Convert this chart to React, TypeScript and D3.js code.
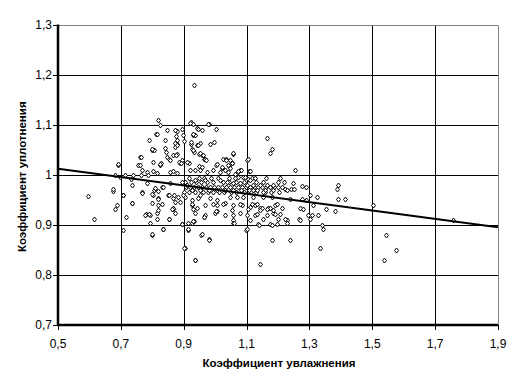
import React, { useEffect, useRef } from "react";
import * as d3 from "d3";

// axis ticks and labels
const xTicks = [0.5, 0.7, 0.9, 1.1, 1.3, 1.5, 1.7, 1.9];
const xTickLabels = ["0,5", "0,7", "0,9", "1,1", "1,3", "1,5", "1,7", "1,9"];
const yTicks = [0.7, 0.8, 0.9, 1.0, 1.1, 1.2, 1.3];
const yTickLabels = ["0,7", "0,8", "0,9", "1", "1,1", "1,2", "1,3"];

const xTitle = "Коэффициент увлажнения";
const yTitle = "Коэффициент уплотнения";

// linear trend line end points
const trendX = [0.5, 1.9];
const trendY = [1.012, 0.895];

// scattered samples left and below the cloud
const sparsePoints: [number, number][] = [
  [0.595, 0.958], [0.614, 0.911], [0.675, 0.967], [0.688, 0.939], [0.681, 0.931],
  [0.707, 0.889], [0.707, 0.959], [0.716, 0.915], [0.735, 0.943], [0.799, 0.879],
  [0.834, 0.891], [0.780, 0.921], [0.793, 0.919], [0.793, 0.903], [0.853, 0.911],
  [0.866, 0.931], [0.904, 0.853], [0.936, 0.829], [0.894, 0.901], [0.913, 0.889],
  [0.926, 0.903], [0.932, 0.907], [0.955, 0.879], [0.980, 0.871], [0.964, 0.915],
  [1.006, 0.927], [0.691, 1.019], [0.754, 1.019], [0.824, 1.019], [0.767, 1.009],
  [0.761, 1.035], [0.691, 1.021], [0.761, 1.019], [0.681, 0.999], [0.697, 0.995],
  [0.732, 0.991], [0.764, 0.999], [0.783, 1.005], [0.675, 0.971], [0.767, 0.965],
  [0.805, 0.969], [0.831, 0.975], [0.802, 1.007], [0.828, 1.023], [0.847, 1.035],
];

// samples above the trend line
const upperPoints: [number, number][] = [
  [0.932, 1.179], [0.818, 1.109], [0.824, 1.099], [0.923, 1.105], [0.929, 1.101],
  [0.980, 1.101], [0.847, 1.089], [0.878, 1.087], [0.894, 1.091], [0.942, 1.093],
  [0.958, 1.089], [1.002, 1.091], [0.789, 1.069], [0.812, 1.081], [0.840, 1.069],
  [0.878, 1.069], [0.901, 1.067], [0.929, 1.079], [0.996, 1.065], [0.983, 1.061],
  [0.799, 1.049], [0.805, 1.049], [0.843, 1.045], [0.872, 1.055], [0.878, 1.061],
  [0.923, 1.061], [0.942, 1.059], [0.952, 1.063], [0.926, 1.051], [0.932, 1.045],
  [0.866, 1.039], [0.878, 1.041], [0.948, 1.041], [0.958, 1.039], [0.802, 1.025],
  [0.853, 1.031], [0.894, 1.029], [0.888, 1.023], [0.917, 1.023], [0.964, 1.031],
  [0.967, 1.031], [1.002, 1.019], [1.025, 1.031], [1.057, 1.041], [1.047, 1.029],
  [1.053, 1.023], [1.101, 1.029], [1.165, 1.073], [1.181, 1.051], [1.174, 1.043],
  [1.254, 1.009], [1.034, 1.031], [1.079, 1.009], [1.107, 1.007], [0.936, 1.079],
  [1.022, 1.013], [1.040, 1.005], [1.069, 1.003], [1.082, 1.009], [1.111, 1.007],
  [0.872, 1.089], [0.920, 1.103], [0.945, 1.091], [0.977, 1.101], [0.815, 1.081],
  [0.875, 1.077], [0.898, 1.079], [0.929, 1.081], [0.923, 1.065], [0.945, 1.059],
  [0.872, 1.063], [0.878, 1.059], [0.799, 1.051], [0.840, 1.053], [0.929, 1.049],
  [0.952, 1.043], [0.961, 1.039], [0.875, 1.039], [0.824, 1.021], [0.856, 1.029],
  [0.885, 1.025], [0.891, 1.023], [0.910, 1.025], [0.971, 1.029], [1.006, 1.021],
  [0.764, 1.035], [0.948, 1.017], [0.958, 1.015], [1.034, 1.029], [1.057, 1.043],
  [1.044, 1.017], [1.022, 1.015], [1.072, 1.007], [0.713, 0.999], [0.739, 0.999],
  [0.786, 0.999], [0.815, 1.003], [0.856, 1.005], [0.866, 1.007], [0.878, 1.003],
  [0.920, 1.009], [0.936, 1.009], [0.952, 1.009], [0.974, 1.005], [0.993, 1.009],
  [1.015, 1.005], [1.031, 1.009], [1.063, 1.001], [1.088, 0.995], [1.104, 0.991],
  [1.117, 0.993], [1.104, 1.031], [1.053, 1.023], [1.040, 1.019], [1.047, 1.013],
  [1.072, 0.995], [1.095, 0.995], [1.111, 0.989],
];

// dense band along the trend line
const bandPoints: [number, number][] = [
  [0.907, 0.975], [0.920, 0.975], [0.932, 0.975], [0.945, 0.975], [0.958, 0.975],
  [0.971, 0.975], [0.983, 0.975], [0.996, 0.975], [1.009, 0.975], [1.022, 0.975],
  [1.034, 0.975], [1.047, 0.975], [1.060, 0.975], [1.072, 0.975], [1.085, 0.975],
  [1.098, 0.975], [1.111, 0.975], [1.123, 0.975], [1.136, 0.975], [1.149, 0.975],
  [1.161, 0.975], [1.174, 0.975], [1.187, 0.975], [1.200, 0.975], [1.212, 0.975],
  [0.901, 0.965], [0.917, 0.965], [0.936, 0.965], [0.961, 0.965], [0.977, 0.965],
  [0.993, 0.965], [1.012, 0.965], [1.028, 0.965], [1.050, 0.965], [1.066, 0.965],
  [1.091, 0.965], [1.114, 0.965], [1.130, 0.965], [1.158, 0.965], [1.177, 0.965],
  [1.203, 0.965], [0.904, 0.985], [0.923, 0.985], [0.939, 0.985], [0.955, 0.985],
  [0.974, 0.985], [1.025, 0.985], [1.044, 0.985], [1.066, 0.985], [1.091, 0.985],
  [1.130, 0.985], [1.152, 0.985], [1.200, 0.985], [1.219, 0.985], [0.917, 0.993],
  [0.948, 0.993], [0.964, 0.993], [0.987, 0.993], [1.009, 0.993], [1.044, 0.993],
  [1.063, 0.993], [1.126, 0.993], [1.161, 0.993], [1.206, 0.993],
  [0.735, 0.979], [0.783, 0.983], [0.808, 0.973], [0.834, 0.975], [0.856, 0.983],
  [0.894, 0.985], [0.910, 0.979], [0.936, 0.989], [0.967, 0.989], [0.993, 0.985],
  [1.015, 0.989], [1.037, 0.985], [1.057, 0.983], [1.079, 0.983], [1.101, 0.979],
  [1.120, 0.979], [1.142, 0.979], [1.165, 0.979], [1.184, 0.979],
  [0.926, 0.970], [0.952, 0.970], [0.980, 0.970], [1.006, 0.970], [1.031, 0.970],
  [1.057, 0.970], [1.082, 0.970], [1.107, 0.970], [1.133, 0.970], [1.158, 0.970],
];

// samples below the trend line
const lowerPoints: [number, number][] = [
  [0.802, 0.959], [0.818, 0.953], [0.850, 0.959], [0.866, 0.953], [0.882, 0.955],
  [0.904, 0.955], [0.926, 0.949], [0.945, 0.953], [0.983, 0.953], [1.006, 0.949],
  [1.047, 0.955], [1.069, 0.955], [1.088, 0.955], [1.120, 0.955], [1.152, 0.955],
  [1.181, 0.955], [0.707, 0.959], [0.767, 0.963], [0.735, 0.943], [0.818, 0.939],
  [0.866, 0.933], [0.926, 0.939], [0.942, 0.933], [0.967, 0.939], [1.006, 0.939],
  [1.031, 0.943], [1.057, 0.939], [1.085, 0.939], [1.111, 0.935], [1.126, 0.939],
  [1.142, 0.933], [1.168, 0.933], [1.190, 0.939], [0.777, 0.919], [0.815, 0.923],
  [0.872, 0.923], [0.936, 0.923], [0.967, 0.919], [0.999, 0.923], [1.031, 0.919],
  [1.079, 0.923], [1.126, 0.919], [1.165, 0.919], [1.184, 0.923],
  [0.799, 0.961], [0.818, 0.967], [0.853, 0.959], [0.869, 0.959], [0.898, 0.959],
  [0.799, 0.943], [0.818, 0.951], [0.831, 0.941], [0.872, 0.945], [0.888, 0.945],
  [0.926, 0.941], [0.789, 0.921], [0.818, 0.929], [0.863, 0.931], [0.815, 0.911],
  [0.853, 0.911], [0.894, 0.901], [0.913, 0.903], [0.834, 0.891], [0.913, 0.891],
  [0.799, 0.881], [0.901, 0.853],
  [0.952, 0.959], [0.993, 0.941], [1.025, 0.941], [1.079, 0.941], [1.117, 0.941],
  [1.133, 0.941], [1.149, 0.933], [1.174, 0.933], [1.196, 0.941], [1.212, 0.933],
  [0.929, 0.931], [1.002, 0.927], [1.053, 0.929], [1.104, 0.931], [1.133, 0.921],
  [1.165, 0.931], [1.190, 0.921], [1.206, 0.921], [0.964, 0.915], [1.057, 0.919],
  [1.101, 0.919], [1.057, 0.909], [1.057, 0.903], [1.111, 0.909], [1.152, 0.911],
  [1.200, 0.911], [1.228, 0.909], [0.929, 0.907], [1.136, 0.901], [1.174, 0.901],
  [1.196, 0.901], [1.228, 0.903], [1.098, 0.889], [0.958, 0.881], [0.980, 0.869],
  [0.936, 0.829], [1.142, 0.821], [1.181, 0.869], [1.238, 0.869],
];

// samples to the right of 1.2
const rightPoints: [number, number][] = [
  [1.247, 0.983], [1.276, 0.977], [1.289, 0.975], [1.390, 0.979], [1.387, 0.971],
  [1.120, 0.969], [1.152, 0.965], [1.184, 0.969], [1.222, 0.971], [1.241, 0.971],
  [1.250, 0.971], [1.228, 0.969], [1.301, 0.959], [1.324, 0.955], [1.390, 0.951],
  [1.413, 0.951], [1.502, 0.939], [1.238, 0.951], [1.276, 0.951], [1.289, 0.949],
  [1.311, 0.939], [1.270, 0.933], [1.279, 0.931], [1.352, 0.931], [1.381, 0.927],
  [1.142, 0.929], [1.184, 0.929], [1.222, 0.911], [1.266, 0.911], [1.295, 0.919],
  [1.308, 0.919], [1.327, 0.919], [1.270, 0.909], [1.301, 0.911], [1.060, 0.903],
  [1.139, 0.899], [1.181, 0.899], [1.340, 0.899], [1.343, 0.891], [1.101, 0.891],
  [1.333, 0.853], [1.543, 0.879], [1.575, 0.849], [1.537, 0.829], [1.756, 0.909],
];

const allPoints = [...sparsePoints, ...upperPoints, ...bandPoints, ...lowerPoints, ...rightPoints];

const W = 521;
const H = 390;
const margin = { top: 24.5, right: 23, bottom: 65, left: 58 };

const App: React.FC = () => {
  const ref = useRef<SVGSVGElement | null>(null);

  useEffect(() => {
    if (!ref.current) return;
    const svg = d3.select(ref.current);
    svg.selectAll("*").remove();

    const x = d3.scaleLinear().domain([0.5, 1.9]).range([margin.left, W - margin.right]);
    const y = d3.scaleLinear().domain([0.7, 1.3]).range([H - margin.bottom, margin.top]);
    const px = (v: number) => Math.round(x(v)) + 0.5;
    const py = (v: number) => Math.round(y(v)) + 0.5;

    svg.append("rect").attr("width", W).attr("height", H).attr("fill", "#fff");

    // grid
    const grid = svg.append("g").attr("stroke", "#000").attr("stroke-width", 1);
    xTicks.slice(1, -1).forEach((t) => {
      grid.append("line").attr("x1", px(t)).attr("x2", px(t)).attr("y1", py(1.3)).attr("y2", py(0.7));
    });
    yTicks.slice(1, -1).forEach((t) => {
      grid.append("line").attr("x1", px(0.5)).attr("x2", px(1.9)).attr("y1", py(t)).attr("y2", py(t));
    });

    // top and right frame (grey)
    svg
      .append("path")
      .attr("d", `M${px(0.5)},${py(1.3)}H${px(1.9)}V${py(0.7)}`)
      .attr("fill", "none")
      .attr("stroke", "#808080");

    // points
    const diamond = "M0,-2.5L2,0L0,2.5L-2,0Z";
    svg
      .append("g")
      .selectAll("path")
      .data(allPoints)
      .enter()
      .append("path")
      .attr("d", diamond)
      .attr("transform", (d) => `translate(${Math.round(x(d[0])) + 0.5},${Math.round(y(d[1])) + 0.5})`)
      .attr("fill", "#fff")
      .attr("stroke", "#000")
      .attr("stroke-width", 1);

    // trend line
    svg
      .append("path")
      .datum(trendX.map((v, i) => [v, trendY[i]] as [number, number]))
      .attr("fill", "none")
      .attr("stroke", "#000")
      .attr("stroke-width", 2)
      .attr("d", d3.line<[number, number]>().x((d) => x(d[0])).y((d) => y(d[1])));

    // axes
    const axes = svg.append("g").attr("stroke", "#000");
    axes
      .append("line")
      .attr("x1", x(0.5))
      .attr("x2", x(0.5))
      .attr("y1", y(1.3))
      .attr("y2", y(0.7) + 1)
      .attr("stroke-width", 2.5);
    axes
      .append("line")
      .attr("x1", x(0.5) - 1)
      .attr("x2", x(1.9))
      .attr("y1", y(0.7))
      .attr("y2", y(0.7))
      .attr("stroke-width", 2.5);
    xTicks.forEach((t) => {
      axes.append("line").attr("x1", px(t)).attr("x2", px(t)).attr("y1", y(0.7)).attr("y2", y(0.7) + 5);
    });
    yTicks.forEach((t) => {
      axes.append("line").attr("x1", x(0.5) - 5).attr("x2", x(0.5)).attr("y1", py(t)).attr("y2", py(t));
    });

    const font = "Liberation Sans, Arial, sans-serif";
    svg
      .append("g")
      .selectAll("text")
      .data(xTicks)
      .enter()
      .append("text")
      .attr("x", (d) => x(d))
      .attr("y", y(0.7) + 23)
      .attr("text-anchor", "middle")
      .attr("font-family", font)
      .attr("font-size", 12)
      .text((d, i) => xTickLabels[i]);
    svg
      .append("g")
      .selectAll("text")
      .data(yTicks)
      .enter()
      .append("text")
      .attr("x", x(0.5) - 6)
      .attr("y", (d) => y(d) + 4)
      .attr("text-anchor", "end")
      .attr("font-family", font)
      .attr("font-size", 12)
      .text((d, i) => yTickLabels[i]);

    svg
      .append("text")
      .attr("x", 279)
      .attr("y", 367)
      .attr("text-anchor", "middle")
      .attr("font-family", font)
      .attr("font-size", 11.5)
      .attr("font-weight", "bold")
      .text(xTitle);
    svg
      .append("text")
      .attr("transform", `translate(26,${(y(1.3) + y(0.7)) / 2 + 2}) rotate(-90)`)
      .attr("text-anchor", "middle")
      .attr("font-family", font)
      .attr("font-size", 11.5)
      .attr("font-weight", "bold")
      .text(yTitle);
  }, []);

  return (
    <svg
      ref={ref}
      width={W}
      height={H}
      style={{ position: "absolute", left: 0, top: 0, display: "block" }}
    />
  );
};

export default App;
